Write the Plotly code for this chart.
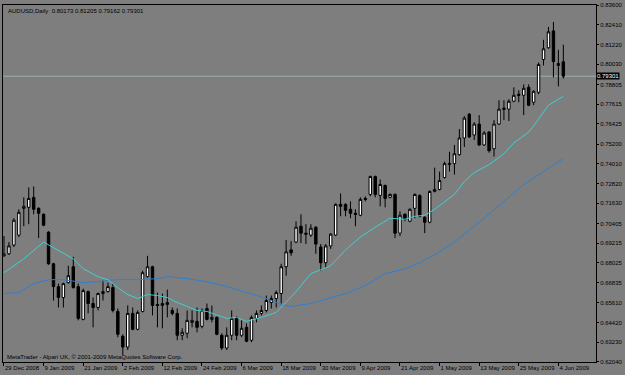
import plotly.graph_objects as go

# ---- data (AUDUSD daily) ----
date_labels = ["29 Dec 2008", "9 Jan 2009", "21 Jan 2009", "2 Feb 2009", "12 Feb 2009",
               "24 Feb 2009", "6 Mar 2009", "18 Mar 2009", "30 Mar 2009", "9 Apr 2009",
               "21 Apr 2009", "1 May 2009", "13 May 2009", "25 May 2009", "4 Jun 2009"]
date_bar_index = [0, 8, 16, 24, 32, 40, 48, 56, 64, 72, 80, 88, 96, 104, 112]

opens = [0.6845, 0.6857, 0.6910, 0.6970, 0.7132, 0.7138, 0.7198, 0.7132, 0.7096, 0.6988,
         0.6797, 0.6659, 0.6593, 0.6683, 0.6779, 0.6659, 0.6461, 0.6629, 0.6557, 0.6533,
         0.6617, 0.6629, 0.6653, 0.6509, 0.6359, 0.6294, 0.6497, 0.6401, 0.6509, 0.6719,
         0.6779, 0.6551, 0.6545, 0.6551, 0.6515, 0.6497, 0.6365, 0.6377, 0.6443, 0.6449,
         0.6419, 0.6527, 0.6461, 0.6473, 0.6365, 0.6288, 0.6365, 0.6473, 0.6365, 0.6413,
         0.6335, 0.6467, 0.6497, 0.6515, 0.6563, 0.6587, 0.6617, 0.6779, 0.6881, 0.6928,
         0.7024, 0.6982, 0.6970, 0.7018, 0.6898, 0.6803, 0.6905, 0.6970, 0.7156, 0.7156,
         0.7126, 0.7102, 0.7090, 0.7192, 0.7216, 0.7324, 0.7210, 0.7270, 0.7198, 0.7216,
         0.6982, 0.7096, 0.7054, 0.7132, 0.7210, 0.7078, 0.7048, 0.7234, 0.7246, 0.7318,
         0.7396, 0.7402, 0.7456, 0.7557, 0.7701, 0.7575, 0.7641, 0.7515, 0.7593, 0.7492,
         0.7641, 0.7737, 0.7731, 0.7779, 0.7821, 0.7815, 0.7863, 0.7773, 0.7833, 0.8031,
         0.8102, 0.8204, 0.7995, 0.80173]
highs = [0.6964, 0.6928, 0.7072, 0.7126, 0.7198, 0.7258, 0.7264, 0.7138, 0.7102, 0.6994,
         0.6803, 0.6677, 0.6683, 0.6785, 0.6839, 0.6677, 0.6647, 0.6635, 0.6593, 0.6623,
         0.6695, 0.6683, 0.6677, 0.6527, 0.6371, 0.6545, 0.6533, 0.6515, 0.6755, 0.6845,
         0.6785, 0.6623, 0.6617, 0.6641, 0.6533, 0.6527, 0.6407, 0.6515, 0.6515, 0.6533,
         0.6527, 0.6557, 0.6545, 0.6479, 0.6377, 0.6413, 0.6515, 0.6479, 0.6455, 0.6437,
         0.6485, 0.6515, 0.6545, 0.6605, 0.6605, 0.6635, 0.6797, 0.6940, 0.6934, 0.7054,
         0.7096, 0.7036, 0.7036, 0.7024, 0.6916, 0.6916, 0.6982, 0.7162, 0.7222, 0.7162,
         0.7174, 0.7126, 0.7198, 0.7204, 0.7330, 0.7330, 0.7306, 0.7276, 0.7222, 0.7222,
         0.7114, 0.7102, 0.7132, 0.7222, 0.7216, 0.7084, 0.7240, 0.7378, 0.7354, 0.7414,
         0.7474, 0.7515, 0.7611, 0.7689, 0.7707, 0.7653, 0.7695, 0.7599, 0.7599, 0.7665,
         0.7785, 0.7785, 0.7791, 0.7863, 0.7845, 0.7881, 0.7881, 0.7845, 0.8013, 0.8150,
         0.8228, 0.8258, 0.8090, 0.81205]
lows = [0.6839, 0.6851, 0.6898, 0.6958, 0.7024, 0.7036, 0.7096, 0.6952, 0.7024, 0.6791,
        0.6575, 0.6533, 0.6533, 0.6677, 0.6647, 0.6455, 0.6455, 0.6497, 0.6413, 0.6515,
        0.6575, 0.6623, 0.6503, 0.6353, 0.6246, 0.6276, 0.6395, 0.6395, 0.6503, 0.6713,
        0.6485, 0.6413, 0.6407, 0.6473, 0.6485, 0.6335, 0.6335, 0.6347, 0.6413, 0.6383,
        0.6407, 0.6455, 0.6443, 0.6365, 0.6276, 0.6276, 0.6335, 0.6335, 0.6353, 0.6323,
        0.6323, 0.6443, 0.6485, 0.6503, 0.6527, 0.6533, 0.6557, 0.6725, 0.6845, 0.6922,
        0.6922, 0.6916, 0.6958, 0.6857, 0.6755, 0.6773, 0.6887, 0.6964, 0.7084, 0.7084,
        0.7072, 0.7024, 0.7084, 0.7174, 0.7204, 0.7198, 0.7144, 0.7138, 0.7192, 0.6952,
        0.6964, 0.7054, 0.7048, 0.7072, 0.7078, 0.6982, 0.7042, 0.7228, 0.7240, 0.7312,
        0.7354, 0.7336, 0.7450, 0.7503, 0.7557, 0.7545, 0.7509, 0.7509, 0.7468, 0.7444,
        0.7635, 0.7665, 0.7659, 0.7773, 0.7773, 0.7695, 0.7749, 0.7755, 0.7821, 0.7995,
        0.8096, 0.7923, 0.7869, 0.79162]
closes = [0.6857, 0.6905, 0.7060, 0.7108, 0.7144, 0.7192, 0.7126, 0.7102, 0.7030, 0.6797,
          0.6659, 0.6593, 0.6677, 0.6725, 0.6653, 0.6467, 0.6635, 0.6557, 0.6533, 0.6617,
          0.6629, 0.6659, 0.6515, 0.6371, 0.6294, 0.6497, 0.6401, 0.6503, 0.6743, 0.6779,
          0.6545, 0.6545, 0.6557, 0.6563, 0.6497, 0.6365, 0.6383, 0.6455, 0.6455, 0.6413,
          0.6515, 0.6461, 0.6473, 0.6371, 0.6288, 0.6365, 0.6467, 0.6365, 0.6407, 0.6329,
          0.6473, 0.6497, 0.6515, 0.6575, 0.6587, 0.6623, 0.6779, 0.6869, 0.6863, 0.7018,
          0.6982, 0.6976, 0.7012, 0.6916, 0.6803, 0.6905, 0.6976, 0.7156, 0.7144, 0.7120,
          0.7102, 0.7096, 0.7186, 0.7186, 0.7324, 0.7216, 0.7276, 0.7192, 0.7216, 0.6982,
          0.7090, 0.7066, 0.7126, 0.7216, 0.7084, 0.7048, 0.7234, 0.7246, 0.7300, 0.7402,
          0.7402, 0.7462, 0.7557, 0.7677, 0.7563, 0.7641, 0.7515, 0.7587, 0.7480, 0.7641,
          0.7731, 0.7731, 0.7779, 0.7815, 0.7815, 0.7857, 0.7755, 0.7839, 0.8001, 0.8096,
          0.8198, 0.8019, 0.8007, 0.79301]

ma_fast_index = [0, 4, 8, 12, 14, 16, 19, 21, 23, 25, 27, 29, 31, 33, 35, 39, 41, 45, 47, 49,
                 52, 55, 56, 59, 62, 66, 69, 72, 75, 78, 81, 83, 85, 87, 91, 93, 95, 98, 101,
                 103, 106, 107, 110, 113]
ma_fast = [0.6743, 0.6827, 0.6928, 0.6863, 0.6827, 0.6767, 0.6719, 0.6701, 0.6653, 0.6611,
           0.6587, 0.6611, 0.6605, 0.6593, 0.6563, 0.6515, 0.6509, 0.6467, 0.6473, 0.6449,
           0.6473, 0.6503, 0.6533, 0.6629, 0.6737, 0.6785, 0.6881, 0.6958, 0.7018, 0.7072,
           0.7066, 0.7084, 0.7090, 0.7126, 0.7216, 0.7294, 0.7348, 0.7396, 0.7462, 0.7527,
           0.7593, 0.7629, 0.7755, 0.7809]

ma_slow_index = [0, 3, 6, 9, 12, 16, 19, 23, 27, 31, 33, 37, 41, 45, 49, 53, 56, 58, 62, 65,
                 69, 73, 77, 81, 84, 87, 91, 97, 101, 105, 109, 113]
ma_slow = [0.6617, 0.6623, 0.6677, 0.6701, 0.6701, 0.6683, 0.6689, 0.6701, 0.6701, 0.6707,
           0.6719, 0.6707, 0.6689, 0.6659, 0.6623, 0.6587, 0.6551, 0.6539, 0.6557, 0.6581,
           0.6617, 0.6665, 0.6737, 0.6767, 0.6803, 0.6851, 0.6928, 0.7072, 0.7174, 0.7276,
           0.7354, 0.7432]

price_ticks = [0.62040, 0.63230, 0.64420, 0.65610, 0.66835, 0.68025, 0.69215, 0.70405,
               0.71630, 0.72820, 0.74010, 0.75200, 0.76425, 0.77615, 0.78805, 0.80030,
               0.81220, 0.82410, 0.83600]

symbol = "AUDUSD,Daily"
copyright_text = "MetaTrader - Alpari UK, \u00a9 2001-2009 MetaQuotes Software Corp."

# ---- figure ----
BG = "#7e7e7e"
FONT = "Liberation Sans"
bars = list(range(len(opens)))

fig = go.Figure()
fig.add_trace(go.Candlestick(
    x=bars, open=opens, high=highs, low=lows, close=closes,
    increasing=dict(fillcolor="white", line=dict(color="black", width=1)),
    decreasing=dict(fillcolor="black", line=dict(color="black", width=1)),
    whiskerwidth=0, showlegend=False, hoverinfo="skip",
))
fig.add_trace(go.Scatter(x=ma_slow_index, y=ma_slow, mode="lines",
                         line=dict(color="#2f80d0", width=1), showlegend=False, hoverinfo="skip"))
fig.add_trace(go.Scatter(x=ma_fast_index, y=ma_fast, mode="lines",
                         line=dict(color="#40d0d0", width=1), showlegend=False, hoverinfo="skip"))

last_close = closes[-1]
fig.add_shape(type="line", xref="paper", x0=0, x1=1, yref="y", y0=last_close, y1=last_close,
              line=dict(color="#9ab0b0", width=1), layer="below")

header = "%s  %.5f %.5f %.5f %.5f" % (symbol, opens[-1], highs[-1], lows[-1], closes[-1])
fig.add_annotation(text=header, xref="paper", yref="paper", x=0, y=1, xanchor="left",
                   yanchor="top", xshift=3, yshift=-1, showarrow=False,
                   font=dict(family=FONT, size=6, color="black"))
fig.add_annotation(text=copyright_text, xref="paper", yref="paper", x=0, y=0, xanchor="left",
                   yanchor="bottom", xshift=2, yshift=0, showarrow=False,
                   font=dict(family=FONT, size=6, color="black"))
fig.add_annotation(text="%.5f" % last_close, xref="paper", yref="y", x=1, y=last_close,
                   xanchor="left", yanchor="middle", xshift=0, showarrow=False,
                   bgcolor="black", borderpad=0,
                   font=dict(family=FONT, size=6, color="white"))

fig.update_layout(
    width=625, height=375,
    margin=dict(l=2, r=24, t=2, b=13),
    paper_bgcolor=BG, plot_bgcolor=BG,
    font=dict(family=FONT, size=6, color="black"),
    xaxis=dict(range=[-0.2, 119.6], showgrid=False, zeroline=False, rangeslider=dict(visible=False),
               tickmode="array", tickvals=date_bar_index, ticktext=date_labels, tickangle=0,
               ticks="outside", ticklen=3, tickcolor="black", ticklabelposition="outside right",
               showline=True, linecolor="black", linewidth=1, mirror=True,
               tickfont=dict(family=FONT, size=6, color="black")),
    yaxis=dict(range=[0.62035, 0.83605], side="right", showgrid=False, zeroline=False,
               tickmode="array", tickvals=price_ticks, tickformat=".5f",
               ticks="outside", ticklen=2, tickcolor="black",
               showline=True, linecolor="black", linewidth=1, mirror=True,
               tickfont=dict(family=FONT, size=6, color="black")),
)

fig.write_html("out.html")
